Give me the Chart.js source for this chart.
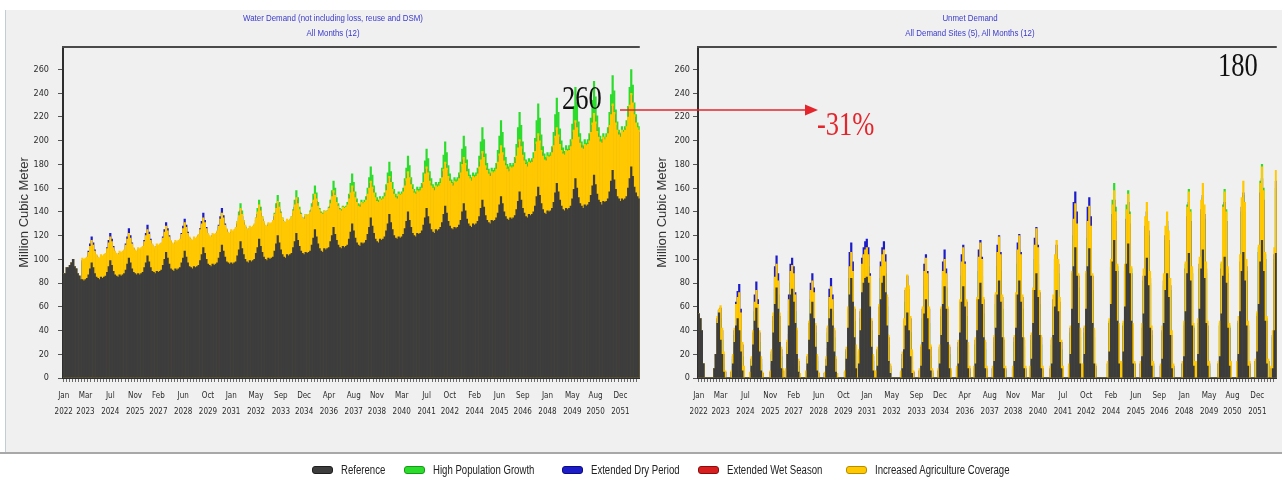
<!DOCTYPE html>
<html>
<head>
<meta charset="utf-8">
<title>Water Demand and Unmet Demand by Scenario</title>
<script src="https://cdn.jsdelivr.net/npm/chart.js@4.4.1/dist/chart.umd.min.js"></script>
<style>
  html, body { margin: 0; padding: 0; }
  body {
    width: 1282px; height: 482px; position: relative; overflow: hidden; background: #ffffff;
    font-family: "Liberation Sans", Arial, sans-serif;
  }
  #panel { position: absolute; left: 6px; top: 10px; width: 1276px; height: 442px; background: #f0f0f0; }
  #edge { position: absolute; left: 5px; top: 10px; width: 1px; height: 442px; background: #c3cbd5; }
  #rule { position: absolute; left: 0; top: 452px; width: 1282px; height: 2px; background: #a8a8a8; }
  canvas { position: absolute; top: 10px; }
  #demandChart { left: 0; }
  #unmetChart { left: 645px; }
  .ttl {
    position: absolute; top: 10px; color: #3a3acc; font-size: 9.5px; line-height: 15px;
    text-align: center; white-space: nowrap; transform: translateX(-50%) scaleX(0.83);
  }
  .note {
    position: absolute; font-family: "Liberation Serif", "Times New Roman", serif; font-size: 34px;
    line-height: 34px; white-space: nowrap; transform-origin: 0 0; transform: scaleX(0.78);
  }
  .sw { position: absolute; top: 466px; width: 21px; height: 8px; border-radius: 3px; box-sizing: border-box; border: 1px solid; }
  .lb {
    position: absolute; top: 463px; font-size: 12px; line-height: 14px; color: #222; white-space: nowrap;
    transform-origin: 0 0; transform: scaleX(0.8);
  }
  #arrow { position: absolute; left: 0; top: 0; width: 1282px; height: 482px; pointer-events: none; }
</style>
</head>
<body>
<div id="panel"></div>
<div id="edge"></div>
<div id="rule"></div>
<canvas id="demandChart" width="645" height="442"></canvas>
<canvas id="unmetChart" width="637" height="442"></canvas>

<div class="ttl" style="left:333px">Water Demand (not including loss, reuse and DSM)<br>All Months (12)</div>
<div class="ttl" style="left:970px">Unmet Demand<br>All Demand Sites (5), All Months (12)</div>

<svg id="arrow" viewBox="0 0 1282 482">
  <line x1="620" y1="110" x2="807" y2="110" stroke="#e4262c" stroke-width="1.6"/>
  <polygon points="805,104.5 818,110 805,115.5" fill="#e4262c"/>
</svg>
<div class="note" style="left:562px;top:81px;color:#111">260</div>
<div class="note" style="left:1218px;top:48px;color:#111">180</div>
<div class="note" style="left:817px;top:107px;color:#e3262c">-31%</div>

<div id="legend"></div>

<script>
// ---- time axis ----
const MONTHS = ['Jan','Feb','Mar','Apr','May','Jun','Jul','Aug','Sep','Oct','Nov','Dec'];
const YEARS = [];
for (let y = 2022; y <= 2052; y++) YEARS.push(y);
const categories = YEARS.flatMap(y => MONTHS.map(m => m + ' ' + y));

const tickLabels = ['Jan 2022','Mar 2023','Jul 2024','Nov 2025','Feb 2027','Jun 2028','Oct 2029','Jan 2031',
  'May 2032','Sep 2033','Dec 2034','Apr 2036','Aug 2037','Nov 2038','Mar 2040','Jul 2041','Oct 2042',
  'Feb 2044','Jun 2045','Sep 2046','Jan 2048','May 2049','Aug 2050','Dec 2051'];

// ---- scenarios ----
const SERIES_NAMES = ['Reference','High Population Growth','Extended Dry Period','Extended Wet Season','Increased Agriculture Coverage'];
const SERIES_COLORS = ['#3d3d3d','#2cdc2c','#1c1cc8','#d81e1e','#ffc800'];
const SERIES_EDGES = ['#1e1e1e','#159a15','#0c0c80','#8a0d0d','#b58d00'];

// ---- water demand, million m3 per month (one row per year, Jan..Dec) ----
const demandReference = [
  88,88,93,93,95,97,100,94,92,88,86,83,
  83,82,83,84,87,92,97,93,88,85,84,83,
  85,84,85,86,89,94,99,95,90,87,86,85,
  87,86,87,88,91,96,101,97,92,89,88,87,
  88,87,88,89,93,97,103,98,93,90,89,88,
  90,89,90,91,95,100,106,101,96,92,91,90,
  92,91,92,93,97,101,107,102,97,94,93,92,
  94,93,94,95,99,104,110,105,100,96,95,94,
  96,95,96,97,101,106,112,107,102,98,97,96,
  97,96,97,98,103,108,115,109,104,100,98,97,
  99,98,99,100,105,110,117,111,106,102,100,99,
  101,100,101,102,107,113,120,114,108,104,102,101,
  104,103,104,105,110,115,122,116,111,107,105,104,
  106,105,106,107,112,118,125,119,113,109,107,106,
  109,108,109,110,115,120,127,121,116,112,110,109,
  111,110,111,112,117,123,130,124,118,114,112,111,
  114,113,114,116,121,127,135,128,122,117,115,114,
  117,116,117,119,124,130,138,131,125,120,118,117,
  119,118,119,121,126,132,140,133,127,122,120,119,
  122,121,122,124,129,135,143,136,130,125,123,122,
  125,124,125,127,131,138,145,139,132,128,126,125,
  127,126,127,129,133,140,147,141,134,130,128,127,
  130,129,130,132,136,143,150,144,137,133,131,130,
  133,132,133,135,139,146,153,147,140,136,134,133,
  135,134,135,137,142,149,157,150,143,139,136,135,
  138,137,138,140,145,153,161,154,147,142,139,138,
  141,140,141,143,148,156,164,157,150,145,142,141,
  143,142,143,145,151,159,168,160,152,147,145,143,
  146,145,146,148,154,162,171,163,155,150,148,146,
  149,148,149,151,157,166,175,167,159,153,151,149,
  151,150,151,153,160,168,178,170,161,156,153,151
];
const demandHighPop = [
  88,88,93,93,95,97,100,94,92,88,86,83,
  97,96,97,98,102,107,112,108,103,100,98,97,
  100,99,100,101,105,110,115,111,106,103,101,100,
  103,102,103,104,108,113,118,114,109,106,104,103,
  106,105,106,107,111,116,121,117,112,109,107,106,
  109,108,109,110,114,119,124,120,115,112,110,109,
  112,111,112,113,117,122,127,123,118,115,113,112,
  115,114,115,117,121,126,131,127,122,118,116,115,
  119,118,119,121,127,133,140,135,128,124,121,119,
  123,122,123,126,132,140,147,141,133,128,125,124,
  126,125,126,129,135,143,150,144,136,131,128,127,
  130,129,130,133,139,147,154,148,140,135,132,131,
  133,132,133,136,142,150,158,152,144,139,135,134,
  138,137,138,141,147,155,162,156,148,143,140,139,
  141,140,141,144,150,158,166,160,152,147,143,142,
  145,144,145,148,155,164,172,165,157,151,147,146,
  150,148,150,153,160,169,178,171,162,156,152,150,
  153,151,153,156,163,173,182,174,165,159,155,153,
  157,155,157,160,168,177,187,179,169,163,159,157,
  161,159,161,164,173,183,193,185,174,168,163,161,
  165,163,165,168,177,188,199,190,179,172,167,165,
  169,167,169,173,182,193,204,195,184,176,171,169,
  173,171,173,177,187,199,211,201,189,181,176,173,
  177,175,177,181,192,204,217,207,194,186,180,178,
  181,179,181,186,197,211,224,213,199,190,184,182,
  185,183,185,190,202,217,231,219,205,195,189,186,
  190,188,190,195,207,222,236,224,210,200,194,191,
  196,193,196,201,214,229,245,232,216,206,199,196,
  201,198,201,206,219,234,250,237,221,211,204,201,
  206,203,206,211,224,239,255,242,226,216,209,206,
  212,209,212,217,229,245,260,247,232,222,215,212
];
const demandDry = [
  88,88,93,93,95,97,100,94,92,88,86,83,
  99,98,99,101,107,113,119,114,108,103,100,99,
  102,101,102,104,110,116,122,117,111,106,103,102,
  105,104,105,107,113,119,126,120,114,109,106,105,
  108,107,108,110,116,122,129,123,117,112,109,108,
  111,110,111,113,119,125,131,126,120,115,112,111,
  114,113,114,116,122,128,134,129,123,118,115,114,
  117,116,117,120,126,132,139,133,127,121,118,117,
  120,119,120,123,129,136,143,137,130,125,121,120,
  123,122,123,125,130,135,141,136,131,127,124,123,
  126,125,126,128,133,138,144,139,134,130,127,126,
  129,128,129,131,136,141,147,142,137,133,130,129,
  132,131,132,134,139,144,150,145,140,136,133,132,
  136,135,136,138,142,148,153,149,143,140,137,136,
  139,138,139,141,145,151,156,152,146,143,140,139,
  142,141,142,144,149,154,160,155,150,146,143,142,
  146,145,146,148,153,158,164,159,154,150,147,146,
  149,148,149,151,156,162,168,163,157,153,150,149,
  153,152,153,155,160,166,172,167,161,157,154,153,
  156,155,156,158,163,170,176,171,164,160,158,156,
  160,159,160,162,167,174,180,175,168,164,162,160,
  164,163,164,166,171,178,184,179,172,168,166,164,
  168,167,168,170,176,182,189,184,177,173,170,168,
  172,171,172,174,180,187,194,188,181,177,174,172,
  176,175,176,179,185,192,199,193,186,181,178,176,
  180,179,180,183,189,197,204,198,190,185,182,181,
  185,184,185,188,194,202,209,203,195,190,187,186,
  190,189,190,193,199,207,215,209,201,196,192,191,
  195,194,195,198,205,213,221,214,206,201,197,196,
  201,199,201,204,211,220,229,222,213,207,203,201,
  207,205,207,210,218,228,238,230,220,213,209,207
];
const demandWet = [
  88,88,93,93,95,97,100,94,92,88,86,83,
  80,79,80,81,84,89,94,90,85,82,81,80,
  82,81,82,83,86,91,96,92,87,84,83,82,
  84,83,84,85,88,93,98,94,89,86,85,84,
  85,84,85,86,90,94,100,95,90,87,86,85,
  87,86,87,88,92,97,103,98,93,89,88,87,
  89,88,89,90,94,98,104,99,94,91,90,89,
  91,90,91,92,96,101,107,102,97,93,92,91,
  93,92,93,94,98,103,109,104,99,95,94,93,
  94,93,94,95,100,105,112,106,101,97,95,94,
  96,95,96,97,102,107,114,108,103,99,97,96,
  98,97,98,99,104,110,117,111,105,101,99,98,
  101,100,101,102,107,112,119,113,108,104,102,101,
  103,102,103,104,109,115,122,116,110,106,104,103,
  106,105,106,107,112,117,124,118,113,109,107,106,
  108,107,108,109,114,120,127,121,115,111,109,108,
  111,110,111,113,118,124,132,125,119,114,112,111,
  114,113,114,116,121,127,135,128,122,117,115,114,
  116,115,116,118,123,129,137,130,124,119,117,116,
  119,118,119,121,126,132,140,133,127,122,120,119,
  122,121,122,124,128,135,142,136,129,125,123,122,
  124,123,124,126,130,137,144,138,131,127,125,124,
  127,126,127,129,133,140,147,141,134,130,128,127,
  130,129,130,132,136,143,150,144,137,133,131,130,
  132,131,132,134,139,146,154,147,140,136,133,132,
  135,134,135,137,142,150,158,151,144,139,136,135,
  138,137,138,140,145,153,161,154,147,142,139,138,
  140,139,140,142,148,156,165,157,149,144,142,140,
  143,142,143,145,151,159,168,160,152,147,145,143,
  146,145,146,148,154,163,172,164,156,150,148,146,
  148,147,148,150,157,165,175,167,158,153,150,148
];
const demandAgri = [
  88,88,93,93,95,97,100,94,92,88,86,83,
  101,100,101,102,106,111,116,112,107,104,102,101,
  104,103,104,105,109,114,119,115,110,107,105,104,
  107,106,107,108,112,117,122,118,113,110,108,107,
  110,109,110,111,115,120,125,121,116,113,111,110,
  113,112,113,114,118,123,128,124,119,116,114,113,
  116,115,116,117,121,126,131,127,122,119,117,116,
  119,118,119,121,125,130,135,131,126,122,120,119,
  122,121,122,124,128,134,139,135,129,126,123,122,
  125,124,125,127,132,137,143,138,133,129,126,125,
  128,127,128,130,135,140,146,141,136,132,129,128,
  131,130,131,133,138,143,149,144,139,135,132,131,
  134,133,134,136,141,146,152,147,142,138,135,134,
  138,137,138,140,144,150,155,151,145,142,139,138,
  141,140,141,143,147,153,158,154,148,145,142,141,
  144,143,144,146,151,156,162,157,152,148,145,144,
  148,147,148,150,155,160,166,161,156,152,149,148,
  151,150,151,153,158,164,170,165,159,155,152,151,
  155,154,155,157,162,168,174,169,163,159,156,155,
  158,157,158,160,165,172,178,173,166,162,160,158,
  162,161,162,164,169,176,182,177,170,166,164,162,
  166,165,166,168,173,180,186,181,174,170,168,166,
  170,169,170,172,178,184,191,186,179,175,172,170,
  174,173,174,176,182,189,196,190,183,179,176,174,
  178,177,178,181,187,194,201,195,188,183,180,178,
  182,181,182,185,191,199,206,200,192,187,184,183,
  187,186,187,190,196,204,211,205,197,192,189,188,
  192,191,192,195,201,209,217,211,203,198,194,193,
  197,196,197,200,207,215,223,216,208,203,199,198,
  203,201,203,206,213,222,231,224,215,209,205,203,
  209,207,209,212,220,230,240,232,222,215,211,209
];

// ---- unmet demand, million m3 per month (one row per year, Jan..Dec) ----
const unmetReference = [
  54,50,40,12,0,0,0,0,0,0,8,20,
  46,55,32,20,5,0,0,0,0,0,12,30,
  44,50,40,22,6,0,0,0,0,0,10,28,
  48,59,42,22,6,0,0,0,0,0,0,14,
  38,62,76,58,30,8,0,0,0,20,44,70,
  75,64,46,20,5,0,0,0,0,0,12,32,
  54,64,50,26,6,0,0,0,0,0,10,30,
  50,58,44,22,5,0,0,0,0,0,0,16,
  42,70,84,64,34,8,0,12,40,72,80,84,
  85,80,60,26,6,0,0,10,36,66,80,86,
  72,44,14,4,0,0,0,0,0,0,0,8,
  24,44,55,40,18,4,0,0,0,0,0,10,
  30,54,66,50,24,6,0,0,0,0,0,12,
  36,62,77,58,30,8,0,0,0,0,0,12,
  38,64,77,60,32,8,0,0,0,0,12,40,
  66,80,62,34,8,0,0,0,0,0,14,42,
  70,82,64,34,8,0,0,0,0,0,0,14,
  42,70,82,64,34,8,0,0,0,0,16,46,
  74,88,68,36,8,0,0,0,0,0,0,12,
  36,60,74,56,30,8,0,0,0,0,0,20,
  58,94,110,86,46,12,0,0,20,58,94,109,
  86,46,12,0,0,0,0,0,0,0,0,0,
  22,62,98,116,90,48,12,0,0,22,60,96,
  113,88,48,12,0,0,0,0,0,18,54,86,
  101,78,42,10,0,0,0,0,0,0,16,46,
  74,88,68,36,8,0,0,0,0,0,0,0,
  18,56,88,105,82,44,10,0,0,20,58,92,
  108,84,46,10,0,0,0,0,0,0,0,18,
  54,86,102,80,42,10,0,0,0,0,0,20,
  56,90,106,82,44,10,0,0,0,0,0,22,
  62,98,116,90,48,12,0,0,0,8,40,105
];
const unmetHighPop = [
  54,50,40,12,0,0,0,0,0,0,8,20,
  48,56,50,32,12,0,0,0,0,0,16,36,
  52,58,56,40,18,5,0,0,0,0,14,34,
  56,66,52,30,12,0,0,0,0,0,0,20,
  48,75,88,70,44,18,4,0,0,26,56,80,
  86,76,56,30,10,0,0,0,0,0,16,42,
  66,74,62,38,14,0,0,0,0,0,15,38,
  60,68,56,34,12,0,0,0,0,0,0,22,
  52,84,96,78,48,20,4,18,50,86,94,98,
  100,94,74,40,14,0,0,22,54,84,94,98,
  88,60,28,8,0,0,0,0,0,0,0,16,
  40,64,74,62,38,14,0,0,0,0,0,22,
  50,78,88,74,46,18,4,0,0,0,0,24,
  52,82,92,76,48,20,5,0,0,0,0,26,
  56,86,98,82,52,22,5,0,0,0,28,58,
  90,102,86,54,24,6,0,0,0,0,30,62,
  94,106,90,58,26,6,0,0,0,0,0,30,
  62,96,108,90,58,26,6,0,0,0,32,66,
  100,114,96,62,28,6,0,0,0,0,0,28,
  60,92,104,88,56,24,6,0,0,0,0,38,
  80,120,134,114,76,34,8,0,38,80,118,132,
  112,74,34,8,0,0,0,0,0,0,0,12,
  48,98,150,164,144,94,44,12,12,46,94,146,
  158,140,92,44,12,0,0,0,0,40,82,124,
  136,120,80,36,10,0,0,0,0,0,38,78,
  116,128,112,74,32,8,0,0,0,0,0,12,
  46,96,146,159,142,92,44,12,0,44,92,138,
  152,134,88,40,10,0,0,0,0,0,12,46,
  96,146,159,142,92,44,12,0,0,0,0,46,
  94,140,154,136,90,40,10,0,0,0,14,54,
  110,166,180,160,104,50,14,0,0,34,100,160
];
const unmetDry = [
  54,50,40,12,0,0,0,0,0,0,8,20,
  50,57,59,40,20,5,0,0,0,5,18,40,
  64,73,79,58,28,8,0,0,0,4,16,38,
  70,81,66,38,16,4,0,0,0,0,5,22,
  52,94,103,88,52,24,6,0,6,30,70,96,
  101,94,72,40,14,0,0,0,0,5,18,46,
  80,88,76,44,18,4,0,0,0,4,16,42,
  75,84,70,40,16,0,0,0,0,0,5,24,
  58,106,114,98,58,26,6,22,56,101,110,115,
  117,110,88,48,18,0,5,24,60,98,110,115,
  104,68,34,10,0,0,0,0,0,0,5,20,
  48,74,86,75,50,22,5,0,0,0,6,26,
  58,96,104,90,58,26,6,0,0,0,6,26,
  58,98,108,92,58,26,6,0,0,0,8,30,
  64,104,112,98,64,28,8,0,0,8,32,66,
  108,116,102,66,30,8,0,0,0,8,34,70,
  112,120,106,68,32,8,0,0,0,0,8,34,
  70,114,121,106,68,32,8,0,0,8,36,74,
  118,127,112,72,34,8,0,0,0,0,8,32,
  66,100,112,96,64,30,8,0,0,0,10,42,
  88,148,157,140,86,40,10,10,42,88,144,152,
  136,86,40,10,0,0,0,0,0,0,0,12,
  46,94,138,150,132,90,42,12,12,44,90,134,
  148,130,88,42,12,0,0,0,12,42,86,128,
  140,124,84,40,12,0,0,0,0,10,40,82,
  120,132,116,78,36,10,0,0,0,0,0,12,
  44,92,136,148,132,88,42,12,12,46,96,142,
  154,138,92,44,12,0,0,0,0,0,12,44,
  92,136,148,132,88,42,12,0,0,0,12,48,
  98,144,156,140,94,44,12,0,0,0,14,52,
  106,156,168,150,100,48,14,0,8,36,104,166
];
const unmetWet = [
  54,50,40,12,0,0,0,0,0,0,8,20,
  40,48,27,17,4,0,0,0,0,0,10,26,
  37,43,34,19,5,0,0,0,0,0,8,24,
  41,50,36,19,5,0,0,0,0,0,0,12,
  32,53,65,49,26,7,0,0,0,17,37,60,
  64,54,39,17,4,0,0,0,0,0,10,27,
  46,54,42,22,5,0,0,0,0,0,8,25,
  42,49,37,19,4,0,0,0,0,0,0,14,
  36,60,71,54,29,7,0,10,34,61,68,71,
  72,68,51,22,5,0,0,8,31,56,68,73,
  61,37,12,3,0,0,0,0,0,0,0,6,
  20,37,47,34,15,3,0,0,0,0,0,8,
  25,46,56,42,20,5,0,0,0,0,0,10,
  31,53,65,49,26,7,0,0,0,0,0,10,
  32,54,65,51,27,7,0,0,0,0,10,34,
  56,68,53,29,7,0,0,0,0,0,12,36,
  60,70,54,29,7,0,0,0,0,0,0,12,
  36,60,70,54,29,7,0,0,0,0,14,39,
  63,75,58,31,7,0,0,0,0,0,0,10,
  31,51,63,48,26,7,0,0,0,0,0,17,
  49,80,94,73,39,10,0,0,17,49,80,93,
  73,39,10,0,0,0,0,0,0,0,0,0,
  19,53,83,99,77,41,10,0,0,19,51,82,
  96,75,41,10,0,0,0,0,0,15,46,73,
  86,66,36,8,0,0,0,0,0,0,14,39,
  63,75,58,31,7,0,0,0,0,0,0,0,
  15,48,75,89,70,37,8,0,0,17,49,78,
  92,71,39,8,0,0,0,0,0,0,0,15,
  46,73,87,68,36,8,0,0,0,0,0,17,
  48,77,90,70,37,8,0,0,0,0,0,19,
  53,83,99,77,41,10,0,0,0,7,34,89
];
const unmetAgri = [
  54,50,40,12,0,0,0,0,0,0,8,20,
  52,58,61,42,22,6,0,0,0,6,20,42,
  62,68,72,55,30,10,0,0,0,5,18,40,
  64,74,62,40,18,5,0,0,0,0,6,24,
  55,85,96,82,55,26,8,0,8,32,66,90,
  95,88,70,42,16,4,0,0,0,6,20,48,
  74,82,72,46,20,5,0,0,0,5,18,44,
  68,77,66,42,18,4,0,0,0,0,6,26,
  60,94,106,90,60,28,8,24,58,96,104,108,
  110,104,86,50,20,6,6,26,62,94,104,108,
  98,70,36,12,0,0,0,0,0,0,6,22,
  50,76,87,78,52,24,6,0,0,0,8,28,
  60,90,101,88,60,28,8,0,0,0,8,28,
  60,90,100,88,60,28,8,0,0,0,10,32,
  66,98,110,96,66,30,10,0,0,10,34,68,
  102,114,100,68,32,10,0,0,0,10,36,72,
  106,119,104,70,34,10,0,0,0,0,10,36,
  72,108,120,104,70,34,10,0,0,10,38,76,
  112,126,110,74,36,10,0,0,0,0,10,34,
  70,104,116,100,68,32,10,0,0,0,12,44,
  90,134,147,130,88,42,12,12,44,90,132,145,
  128,88,42,12,0,0,0,0,0,0,0,14,
  50,100,146,158,140,96,46,14,14,48,96,142,
  155,138,94,46,14,0,0,0,14,46,92,136,
  148,132,90,44,14,0,0,0,0,12,44,88,
  128,140,124,84,40,12,0,0,0,0,0,14,
  48,98,144,157,140,94,46,14,14,50,102,150,
  164,146,98,48,14,0,0,0,0,0,14,48,
  98,144,157,140,94,46,14,0,0,0,14,52,
  104,152,166,148,100,48,14,0,0,0,16,56,
  112,164,178,158,106,52,16,0,10,40,110,175
];

// ---- drawing setup ----
// lower order is painted last, so the reference sits in front and the
// high-growth scenario peeks out behind the agriculture scenario
const DRAW_ORDER = [0, 3, 2, 4, 1];
const TICK_FONT = '"Liberation Sans Narrow", "DejaVu Sans Condensed", "Liberation Sans", Arial, sans-serif';
const tickAt = new Map(tickLabels.map(l => [categories.indexOf(l), l]));

const frameTop = {
  id: 'frameTop',
  afterDraw(chart) {
    const { ctx, chartArea: a } = chart;
    ctx.save();
    ctx.strokeStyle = '#4a4a4a';
    ctx.lineWidth = 2;
    ctx.beginPath();
    ctx.moveTo(a.left - 1, a.top);
    ctx.lineTo(a.right, a.top);
    ctx.stroke();
    ctx.restore();
  }
};

function buildChart(canvasId, series, axisWidth, titlePad, labelPad) {
  return new Chart(document.getElementById(canvasId), {
    type: 'bar',
    data: {
      labels: categories,
      datasets: SERIES_NAMES.map((name, i) => ({
        label: name,
        data: series[i],
        backgroundColor: SERIES_COLORS[i],
        borderWidth: 0,
        barPercentage: 1,
        categoryPercentage: 1,
        grouped: false,
        order: DRAW_ORDER[i]
      }))
    },
    options: {
      responsive: false,
      animation: false,
      devicePixelRatio: 1,
      layout: { padding: { top: 37, right: 0, bottom: 0, left: 0 } },
      plugins: { legend: { display: false }, tooltip: { enabled: false }, title: { display: false } },
      scales: {
        x: {
          type: 'category',
          offset: true,
          grid: {
            drawOnChartArea: false, drawTicks: true, tickLength: 4, tickWidth: 1,
            tickColor: c => (c.index % 2 === 0 ? '#6a6a6a' : 'rgba(0,0,0,0)')
          },
          border: { display: true, color: '#2e2e2e', width: 2 },
          ticks: {
            autoSkip: false, maxRotation: 0, minRotation: 0, padding: 6, color: '#2b2b2b',
            font: { family: TICK_FONT, size: 8, lineHeight: 2 },
            callback: (value, index) => {
              const l = tickAt.get(index);
              return l ? l.split(' ') : '';
            }
          },
          afterFit: s => { s.height = 74; }
        },
        y: {
          min: 0, max: 279,
          grid: { drawOnChartArea: false, drawTicks: true, tickLength: 5, tickColor: '#555' },
          border: { display: true, color: '#2e2e2e', width: 2 },
          ticks: {
            stepSize: 20, includeBounds: false, padding: labelPad, color: '#2b2b2b',
            font: { family: TICK_FONT, size: 9 }
          },
          title: {
            display: true, text: 'Million Cubic Meter', color: '#333',
            font: { family: '"Liberation Sans", Arial, sans-serif', size: 13 },
            padding: { top: titlePad, bottom: 0 }
          },
          afterFit: s => { s.width = axisWidth; }
        }
      }
    },
    plugins: [frameTop]
  });
}

buildChart('demandChart', [demandReference, demandHighPop, demandDry, demandWet, demandAgri], 63, 17, 9);
buildChart('unmetChart', [unmetReference, unmetHighPop, unmetDry, unmetWet, unmetAgri], 53, 10, 3);

// ---- shared legend ----
const LEGEND_LEFT = [312, 404, 562, 698, 846];
const legend = document.getElementById('legend');
SERIES_NAMES.forEach((name, i) => {
  const sw = document.createElement('div');
  sw.className = 'sw';
  sw.style.left = LEGEND_LEFT[i] + 'px';
  sw.style.background = SERIES_COLORS[i];
  sw.style.borderColor = SERIES_EDGES[i];
  const lb = document.createElement('div');
  lb.className = 'lb';
  lb.style.left = (LEGEND_LEFT[i] + 29) + 'px';
  lb.textContent = name;
  legend.appendChild(sw);
  legend.appendChild(lb);
});
</script>
</body>
</html>
